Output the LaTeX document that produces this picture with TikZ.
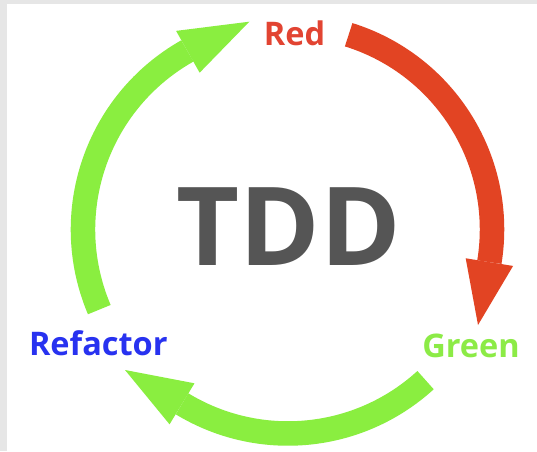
\documentclass[tikz,border=0pt]{standalone}
\usepackage{fontspec}
\setmainfont{Open Sans}
\usetikzlibrary{calc}
\definecolor{arcred}{HTML}{E24423}
\definecolor{arcgreen}{HTML}{8AEE40}
\definecolor{txtred}{HTML}{E24432}
\definecolor{txtgreen}{HTML}{8CEB46}
\definecolor{txtblue}{HTML}{2832F0}
\definecolor{tddgray}{HTML}{555555}
\definecolor{framegray}{HTML}{E6E6E6}
\begin{document}
\begin{tikzpicture}[x=1pt,y=1pt,
  shaft/.style={line width=24.5pt},
  lbl/.style={font=\bfseries\fontsize{32.5}{33}\selectfont, inner sep=0pt, anchor=base}]
\fill[framegray] (0,0) rectangle (537,451);
\fill[white] (7,0) rectangle (537,447);
\useasboundingbox (0,0) rectangle (537,451);
\coordinate (C) at (288,221.5);
% texts
\node[lbl, text=txtred] (Red) at (294.5,406) {Red};
\node[lbl, text=txtgreen] (Green) at (471,94) {Green};
\node[lbl, text=txtblue] (Refactor) at (98.3,96) {Refactor};
\node[font=\bfseries\fontsize{109}{110}\selectfont, text=tddgray, inner sep=0pt, anchor=base] (TDD) at (288.5,186) {TDD};
% red arrow: Red -> Green
\draw[shaft, arcred] (C) ++(72.7:204) arc[start angle=72.7, end angle=-9.2, radius=204];
\coordinate (redtip) at (478,126);
\fill[arcred] ($(C)+(-9.2:180)$) -- ($(C)+(-9.2:228)$) -- (redtip) -- cycle;
% green arrow: Green -> Refactor
\draw[shaft, arcgreen] (C) ++(-47.6:204) arc[start angle=-47.6, end angle=-121.3, radius=204];
\coordinate (greentip) at (125,81);
\fill[arcgreen] ($(C)+(-121.3:180)$) -- ($(C)+(-121.3:228)$) -- (greentip) -- cycle;
% green arrow: Refactor -> Red
\draw[shaft, arcgreen] (C) ++(203:205) arc[start angle=203, end angle=119.4, radius=205];
\coordinate (reftip) at (249.3,429.3);
\fill[arcgreen] ($(C)+(119.4:180)$) -- ($(C)+(119.4:228)$) -- (reftip) -- cycle;
\end{tikzpicture}
\end{document}
